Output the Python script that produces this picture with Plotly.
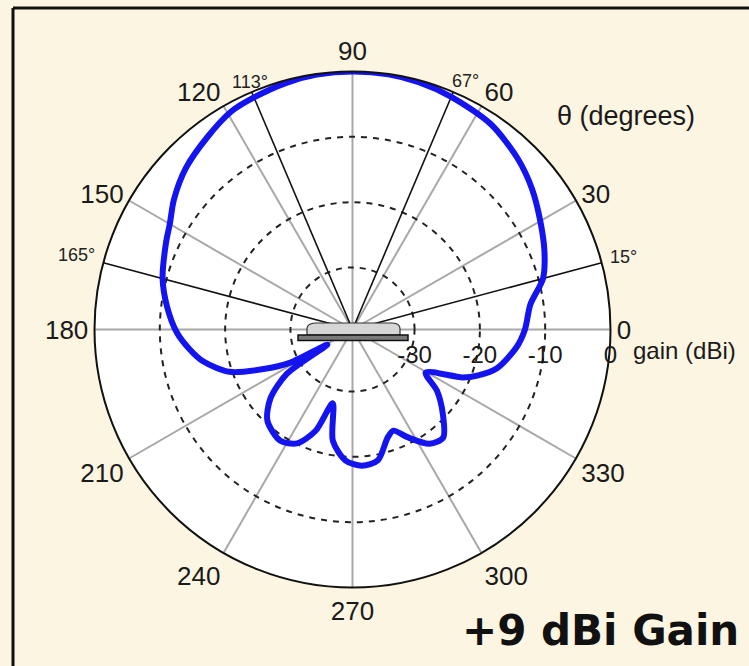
import math
import plotly.graph_objects as go

# ---- figure size (pixels) ----
W, H = 749, 666

# ---- measured radiation pattern: elevation angle (deg) and gain (dBi, normalised) ----
theta_deg = [0, 8, 15, 22, 30, 38, 46, 56, 67, 75, 82, 90, 98, 105, 113, 119,
             127, 136, 144, 150, 155, 165, 173, 181, 187, 192, 199, 204, 208,
             211, 214, 220, 227, 237, 244, 250, 255, 260, 267, 274, 281, 288,
             292, 297, 304, 310, 317, 324, 329.5, 336.5, 340, 345, 354, 360]
gain_dbi = [-13.1, -12.0, -9.3, -7.8, -6.3, -4.6, -3.1, -1.6, -0.8, -0.3, -0.05,
            0.0, -0.1, -0.4, -0.9, -1.3, -2.6, -4.0, -5.7, -7.2, -8.0, -9.4,
            -10.9, -12.6, -14.4, -16.1, -19.6, -24.6, -28.6, -35.0, -27.4,
            -23.1, -20.4, -19.2, -20.1, -23.0, -27.8, -22.2, -19.4, -18.6,
            -19.1, -22.1, -22.8, -21.0, -18.4, -17.9, -20.6, -23.5, -26.5,
            -21.1, -19.0, -16.6, -14.2, -13.1]

# ---- reference spokes with their labels ----
spoke_angles = [15, 67, 113, 165]
spoke_labels = ["15°", "67°", "113°", "165°"]
spoke_label_gap = [23, 12, 11, 28]      # label centre beyond the rim (px)
spoke_label_shift = [0, 8, 3, 0]        # horizontal nudge (px)

# ---- axis ticks ----
angular_ticks = list(range(0, 360, 30))
radial_ticks = [-30, -20, -10, 0]
r_min, r_max = -39.5, 0

# ---- polar plot placement (pixels) ----
cx, cy, R = 352.5, 329.5, 258


def px(x):
    return x / W


def py(y):
    return 1 - y / H


fig = go.Figure()

# black reference spokes
for ang in spoke_angles:
    fig.add_trace(go.Scatterpolar(
        r=[r_min, r_max], theta=[ang, ang], mode="lines",
        line=dict(color="#111111", width=1.6),
        hoverinfo="skip", showlegend=False))

# gain pattern
fig.add_trace(go.Scatterpolar(
    r=gain_dbi, theta=theta_deg, mode="lines",
    line=dict(color="#1414f0", width=6, shape="spline", smoothing=0.8),
    hoverinfo="skip", showlegend=False))

fig.update_layout(
    width=W, height=H,
    margin=dict(l=0, r=0, t=0, b=0),
    paper_bgcolor="#fcf5e1",
    showlegend=False,
    polar=dict(
        domain=dict(x=[px(cx - R), px(cx + R)], y=[py(cy + R), py(cy - R)]),
        bgcolor="#ffffff",
        angularaxis=dict(
            rotation=0, direction="counterclockwise",
            tickmode="array", tickvals=angular_ticks,
            ticktext=[str(t) for t in angular_ticks],
            ticks="",
            tickfont=dict(family="Liberation Sans", size=26, color="#1a1a1a"),
            showline=True, linecolor="#111111", linewidth=2,
            showgrid=True, gridcolor="#a8a8a8", gridwidth=1.5,
        ),
        radialaxis=dict(
            range=[r_min, r_max], angle=0, side="clockwise",
            tickmode="array", tickvals=radial_ticks,
            ticktext=[str(t) for t in radial_ticks],
            ticks="outside", ticklen=4, tickcolor="rgba(0,0,0,0)",
            tickfont=dict(family="Liberation Sans", size=24, color="#1a1a1a"),
            tickangle=0,
            showline=False, showgrid=True, gridcolor="#222222",
            gridwidth=1.8, griddash="6px,6px",
        ),
    ),
)

# spoke labels just outside the rim
for ang, lab, gap, shift in zip(spoke_angles, spoke_labels,
                                spoke_label_gap, spoke_label_shift):
    a = math.radians(ang)
    lx = cx + (R + gap) * math.cos(a) + shift
    ly = cy - (R + gap) * math.sin(a)
    fig.add_annotation(x=px(lx), y=py(ly), xref="paper", yref="paper",
                       text=lab, showarrow=False,
                       xanchor="center", yanchor="middle",
                       font=dict(family="Liberation Sans", size=18,
                                 color="#222222"))

# antenna icon at the pattern origin: radome over a ground plate
dome = (f"M {px(cx-45.5)},{py(cy+5.5)} L {px(cx-45.5)},{py(cy-1)} "
        f"Q {px(cx-45.5)},{py(cy-6)} {px(cx-37)},{py(cy-6.5)} "
        f"L {px(cx+40)},{py(cy-6.5)} "
        f"Q {px(cx+47.5)},{py(cy-6)} {px(cx+47.5)},{py(cy-1)} "
        f"L {px(cx+47.5)},{py(cy+5.5)} Z")
fig.add_shape(type="path", path=dome, xref="paper", yref="paper",
              fillcolor="#d6d6d6", line=dict(color="#333333", width=1.2))
fig.add_shape(type="rect", xref="paper", yref="paper",
              x0=px(cx - 54.5), x1=px(cx + 55.5), y0=py(cy + 11), y1=py(cy + 5.5),
              fillcolor="#7a7a7a", line=dict(color="#111111", width=1.5))

# frame lines (left and top)
fig.add_shape(type="line", xref="paper", yref="paper",
              x0=px(13), x1=px(13), y0=py(8), y1=0,
              line=dict(color="#111111", width=3))
fig.add_shape(type="line", xref="paper", yref="paper",
              x0=px(13), x1=1, y0=py(8), y1=py(8),
              line=dict(color="#111111", width=3))

# axis titles and caption
fig.add_annotation(x=px(684), y=py(350), xref="paper", yref="paper",
                   text="gain (dBi)", showarrow=False,
                   xanchor="center", yanchor="middle",
                   font=dict(family="Liberation Sans", size=24, color="#1a1a1a"))
fig.add_annotation(x=px(626), y=py(116), xref="paper", yref="paper",
                   text="θ (degrees)", showarrow=False,
                   xanchor="center", yanchor="middle",
                   font=dict(family="Liberation Sans", size=27, color="#1a1a1a"))
fig.add_annotation(x=px(741), y=py(630), xref="paper", yref="paper",
                   text="<b>+9 dBi Gain</b>", showarrow=False,
                   xanchor="right", yanchor="middle",
                   font=dict(family="DejaVu Sans", size=42, color="#111111"))

fig.write_html("out.html")
